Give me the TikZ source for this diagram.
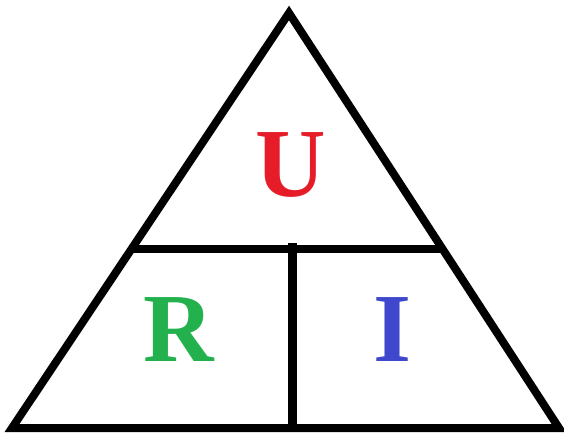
\documentclass[tikz,border=0pt]{standalone}
\usepackage{fontspec}
\setmainfont{Liberation Serif}
\definecolor{uRed}{RGB}{230,28,40}
\definecolor{rGreen}{RGB}{34,177,76}
\definecolor{iBlue}{RGB}{63,72,204}
\tikzset{
  edge/.style={line width=8bp, line join=miter, black},
  letter/.style={anchor=base, inner sep=0pt, font=\fontsize{98}{98}\selectfont\bfseries}
}
\begin{document}
\begin{tikzpicture}[x=1bp,y=-1bp]
\useasboundingbox (0,0) rectangle (564,435);
\coordinate (apex) at (289,13);
\coordinate (bl) at (12,428);
\coordinate (br) at (559,428);
\coordinate (ml) at (130,249);
\coordinate (mr) at (442,249);
\coordinate (mt) at (292,243);
\coordinate (mb) at (292,428);
\draw[edge] (apex) -- (br) -- (bl) -- cycle;
\draw[edge] (ml) -- (mr);
\draw[edge, line width=9bp] (mt) -- (mb);
\node[letter, text=uRed] (u) at (291,197) {U};
\node[letter, text=rGreen] (r) at (179,361) {R};
\node[letter, text=iBlue] (i) at (392,361) {I};
\end{tikzpicture}
\end{document}
